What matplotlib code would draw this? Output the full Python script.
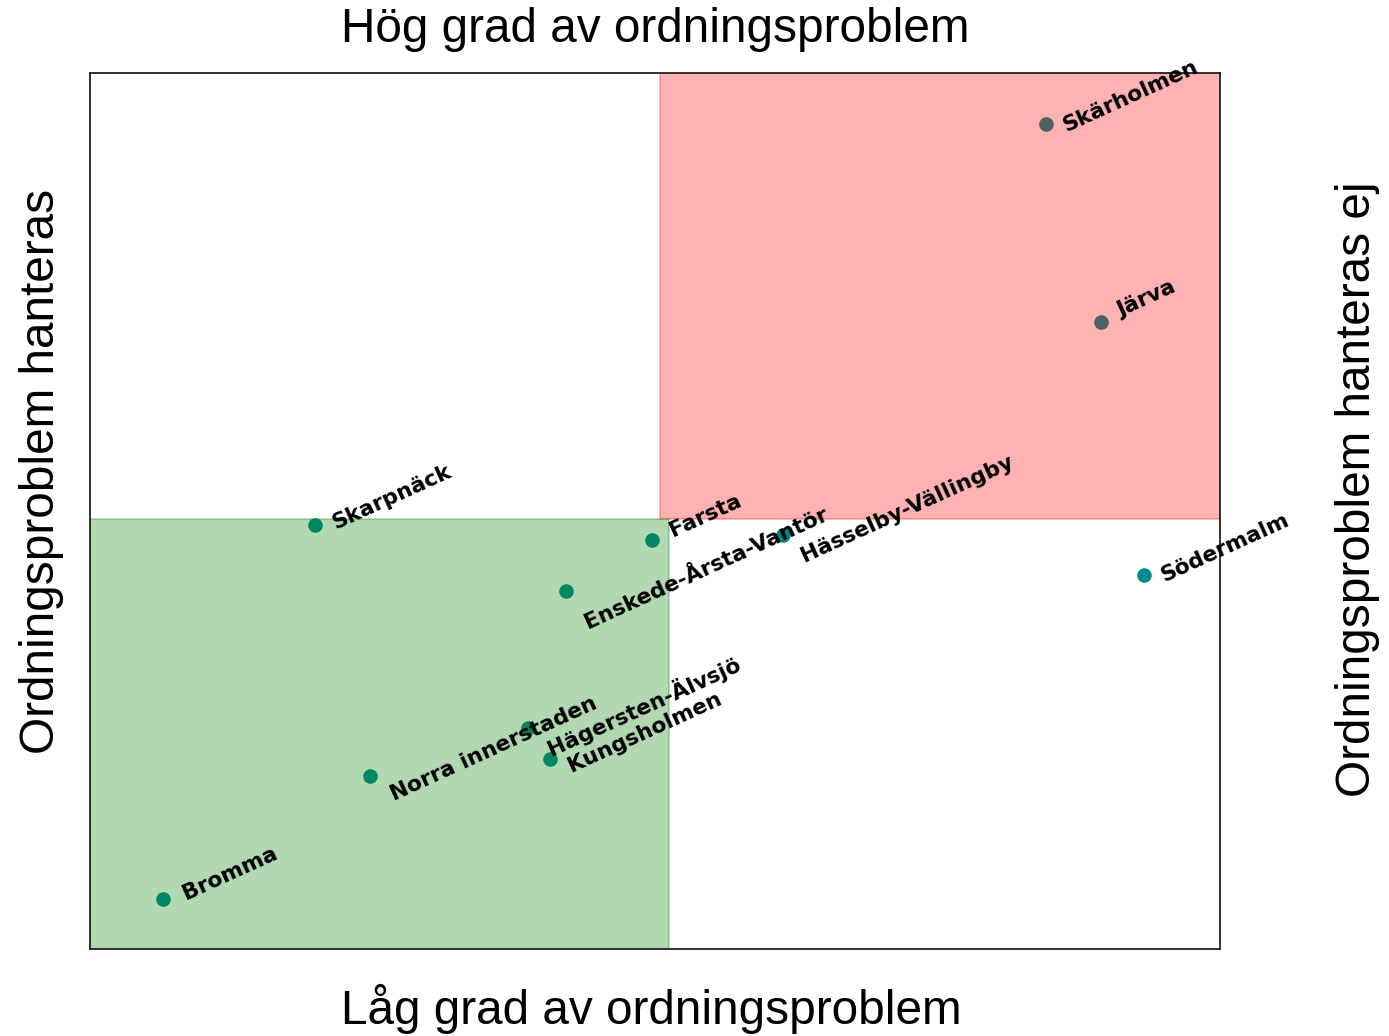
import matplotlib
matplotlib.use("Agg")
import matplotlib.pyplot as plt
from matplotlib.patches import Rectangle

# District scores (normalised scale, 0..1 on both axes)
districts = ["Skärholmen", "Järva", "Skarpnäck", "Farsta", "Enskede-Årsta-Vantör",
             "Hässelby-Vällingby", "Södermalm", "Hägersten-Älvsjö", "Kungsholmen",
             "Norra innerstaden", "Bromma"]
problem_level = [0.846, 0.895, 0.199, 0.497, 0.421, 0.613, 0.933, 0.388, 0.407, 0.248, 0.065]
unhandled = [0.942, 0.716, 0.484, 0.467, 0.409, 0.473, 0.427, 0.252, 0.217, 0.197, 0.057]

# Quadrant boundaries
red_x0, red_y0 = 0.504, 0.491
green_x1, green_y1 = 0.512, 0.491

# Label placement relative to each point, in pixels
label_dx = [18, 17, 18, 19, 20, 19, 18, 20, 19, 21, 20]
label_dy = [-3, 10, 1, 8, -33, -22, -2, -21, -8, -19, 5]

fig = plt.figure(figsize=(13.89, 10.36), dpi=100)
ax = fig.add_axes([90 / 1389, 87 / 1036, 1130 / 1389, 876 / 1036])
ax.set_xlim(0, 1)
ax.set_ylim(0, 1)
ax.set_xticks([])
ax.set_yticks([])
for sp in ax.spines.values():
    sp.set_linewidth(1.3)
    sp.set_color("#222222")

ax.scatter(problem_level, unhandled, s=110, color="darkcyan", zorder=1, linewidths=0)

ax.add_patch(Rectangle((red_x0, red_y0), 1 - red_x0, 1 - red_y0,
                       color="red", alpha=0.3, lw=1.2, zorder=2))
ax.add_patch(Rectangle((0, 0), green_x1, green_y1,
                       color="green", alpha=0.3, lw=1.2, zorder=2))

for name, x, y, dx, dy in zip(districts, problem_level, unhandled, label_dx, label_dy):
    ax.annotate(name, (x, y), xytext=(dx, dy), textcoords="offset pixels",
                rotation=24.5, rotation_mode="anchor", ha="left", va="center",
                fontsize=15.7, fontweight="bold", family="DejaVu Sans",
                color="black", zorder=3, annotation_clip=False)

title_font = dict(family="Liberation Sans", fontsize=34.4)
fig.text(655 / 1389, 1 - 29 / 1036, "Hög grad av ordningsproblem",
         ha="center", va="center", **title_font)
fig.text(651 / 1389, 1 - 1009 / 1036, "Låg grad av ordningsproblem",
         ha="center", va="center", **title_font)
fig.text(42 / 1389, 1 - 471 / 1036, "Ordningsproblem hanteras",
         ha="center", va="center", rotation=90, **title_font)
fig.text(1358 / 1389, 1 - 489 / 1036, "Ordningsproblem hanteras ej",
         ha="center", va="center", rotation=90, **title_font)

fig.savefig("out.png", dpi=100)
